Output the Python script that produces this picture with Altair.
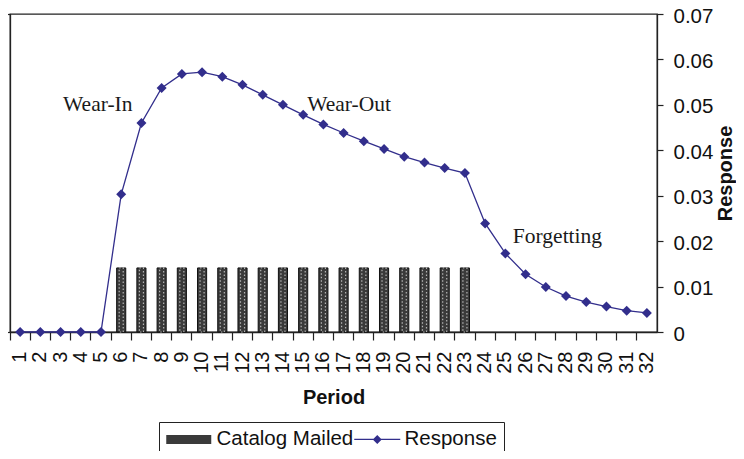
import altair as alt
import pandas as pd

# ---- data ----
periods = list(range(1, 33))
response = [0, 0, 0, 0, 0, 0.0303, 0.0460, 0.0537, 0.0568, 0.0572, 0.0562, 0.0544,
            0.0522, 0.0500, 0.0478, 0.0457, 0.0438, 0.0420, 0.0403, 0.0386, 0.0373,
            0.0361, 0.0350, 0.0239, 0.0173, 0.0127, 0.0099, 0.0079, 0.0066, 0.0056,
            0.0047, 0.0042]
mailed_periods = list(range(6, 24))
mailed_value = 0.0141
y_ticks = [0, 0.01, 0.02, 0.03, 0.04, 0.05, 0.06, 0.07]
ann_labels = ["Wear-In", "Wear-Out", "Forgetting"]
ann_periods = [3, 15, 25]
ann_values = [0.0486, 0.0486, 0.0196]
legend_labels = ["Catalog Mailed", "Response"]

# ---- styles ----
ann_dx = [2.5, 4, 7.5]
line_color = "#322E8C"
bar_color = "#3a3a3a"
axis_color = "#222222"
sans = "Liberation Sans"
serif = "Liberation Serif"
rect_path = "M-1,-0.45H3.5V0.45H-1Z"
line_path = "M-1,-0.06H3.6V0.06H-1ZM1.3,-0.45L1.75,0L1.3,0.45L0.85,0Z"

resp_df = pd.DataFrame({"period": periods, "response": response})
bar_df = pd.DataFrame({"period": mailed_periods, "catalog": [mailed_value] * len(mailed_periods)})
ann_df = pd.DataFrame({"label": ann_labels, "period": ann_periods, "value": ann_values})
leg_df = pd.DataFrame({"series": legend_labels})

xscale = alt.Scale(type="band", domain=periods, paddingInner=0, paddingOuter=0)
yscale = alt.Scale(domain=[0, 0.07], nice=False, zero=True)

bars = alt.Chart(bar_df).mark_bar(
    width=alt.RelativeBandSize(0.45), fill=bar_color, stroke="#111111", strokeWidth=1
).encode(
    x=alt.X("period:O", scale=xscale,
            axis=alt.Axis(orient="bottom", bandPosition=0, labels=False, title=None,
                          tickSize=8, domainColor=axis_color, tickColor=axis_color,
                          domainWidth=1.3, tickWidth=1.2, grid=False)),
    y=alt.Y("catalog:Q", scale=yscale,
            axis=alt.Axis(orient="left", values=[0, 0.07], labels=False, title=None,
                          tickSize=7, grid=False, domainColor=axis_color,
                          tickColor=axis_color, domainWidth=1.3, tickWidth=1.2)),
)

# texture inside the bars (dotted light hatching)
bar_texture = alt.Chart(bar_df).mark_bar(
    width=alt.RelativeBandSize(0.2), fill=None, stroke="#b5b5b5", strokeWidth=1.2,
    strokeDash=[1.5, 2]
).encode(
    x=alt.X("period:O", scale=xscale, axis=None),
    y=alt.Y("catalog:Q", scale=yscale, axis=None),
)

line = alt.Chart(resp_df).mark_line(color=line_color, strokeWidth=1.3).encode(
    x=alt.X("period:O", scale=xscale,
            axis=alt.Axis(orient="bottom", labelAngle=270, ticks=False, tickSize=0,
                          domain=False, title="Period", labelPadding=19, titlePadding=14,
                          labelFont=sans, labelFontSize=20, labelColor="#111111",
                          titleFont=sans, titleFontSize=20, titleFontWeight="bold",
                          titleColor="#111111", grid=False)),
    y=alt.Y("response:Q", scale=yscale,
            axis=alt.Axis(orient="right", values=y_ticks, format="~g", title="Response",
                          tickSize=6, labelPadding=10, labelOffset=2, titlePadding=23,
                          titleAngle=270,
                          labelFont=sans, labelFontSize=20.5, labelColor="#111111",
                          titleFont=sans, titleFontSize=20, titleFontWeight="bold",
                          titleColor="#111111", grid=False, domainColor=axis_color,
                          tickColor=axis_color, domainWidth=1.3, tickWidth=1.2)),
)

points = alt.Chart(resp_df).mark_point(
    shape="diamond", filled=True, size=100, color=line_color, opacity=1
).encode(
    x=alt.X("period:O", scale=xscale, axis=None),
    y=alt.Y("response:Q", scale=yscale, axis=None),
)

ann_layers = []
for i in range(len(ann_labels)):
    ann_layers.append(
        alt.Chart(ann_df.iloc[[i]]).mark_text(
            align="left", baseline="alphabetic", font=serif, fontSize=21.5,
            color="#1a1a1a", dx=ann_dx[i]
        ).encode(
            x=alt.X("period:O", scale=xscale, axis=None),
            y=alt.Y("value:Q", scale=yscale, axis=None),
            text="label:N",
        )
    )

legend_spec = dict(
    title=None, orient="none", legendX=149, legendY=408, direction="horizontal",
    columns=2, strokeColor="#222222", padding=7, symbolSize=400, labelOffset=30,
    columnPadding=0, labelFont=sans, labelFontSize=20.5, labelColor="#111111",
    symbolStrokeWidth=0,
)
legend_layer = alt.Chart(leg_df).transform_filter("false").mark_point(
    filled=True, opacity=1, size=400
).encode(
    color=alt.Color("series:N", scale=alt.Scale(domain=legend_labels,
                                                range=[bar_color, line_color]),
                    legend=alt.Legend(**legend_spec)),
    shape=alt.Shape("series:N", scale=alt.Scale(domain=legend_labels,
                                                range=[rect_path, line_path]),
                    legend=alt.Legend(**legend_spec)),
)

chart = alt.layer(bars, bar_texture, line, points, *ann_layers, legend_layer).resolve_axis(
    x="independent", y="independent"
).properties(
    width=647, height=318,
    autosize=alt.AutoSizeParams(type="none"),
    padding={"left": 2, "top": 6, "right": 79, "bottom": 119},
).configure_view(stroke=axis_color, strokeWidth=1.3)

chart.save("out.html", embed_options={"renderer": "svg", "actions": False})
